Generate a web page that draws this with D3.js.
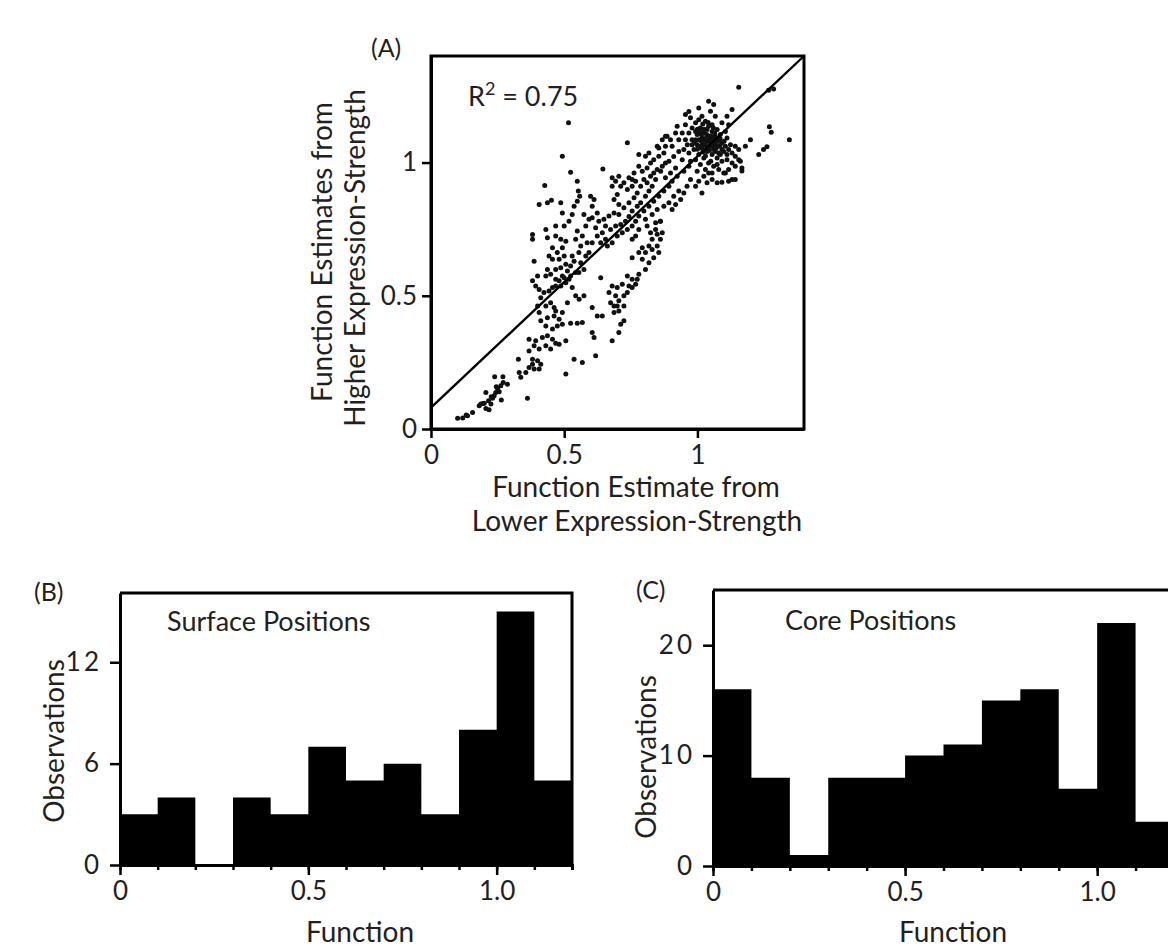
<!DOCTYPE html>
<html>
<head>
<meta charset="utf-8">
<script src="https://cdn.jsdelivr.net/npm/d3@7"></script>
<style>
  body { margin: 0; background: #fff; }
  svg { display: block; font-family: Lato, "Open Sans", sans-serif; }
  .axis path, .axis line { stroke: #000; }
  .axis text { font-family: Lato, sans-serif; fill: #231f20; }
  .lbl { fill: #231f20; }
</style>
</head>
<body>
<svg id="chart" width="1168" height="951"></svg>
<script>
// ---- data, panel A: [estimate from lower strength, estimate from higher strength]
const scatterPoints = [
  // lower-left tail
  [0.10,0.04],[0.119,0.041],[0.137,0.05],[0.156,0.062],[0.181,0.087],[0.187,0.094],[0.20,0.097],
  [0.206,0.077],[0.216,0.106],[0.225,0.094],[0.231,0.115],[0.237,0.125],[0.243,0.137],[0.256,0.14],
  [0.262,0.162],[0.271,0.175],[0.218,0.072],[0.25,0.152],[0.206,0.137],[0.287,0.168],[0.132,0.053],
  [0.195,0.096],[0.226,0.121],[0.245,0.159],[0.27,0.196],[0.239,0.196],[0.264,0.109],
  // lower branch
  [0.328,0.262],[0.331,0.212],[0.337,0.194],[0.362,0.115],[0.356,0.212],[0.368,0.231],[0.381,0.243],
  [0.387,0.225],[0.406,0.225],[0.412,0.243],[0.40,0.256],[0.381,0.262],[0.368,0.293],[0.387,0.312],
  [0.406,0.30],[0.431,0.312],[0.449,0.30],[0.368,0.337],[0.393,0.331],[0.418,0.343],[0.437,0.35],
  [0.456,0.337],[0.468,0.322],[0.481,0.318],[0.506,0.331],[0.506,0.206],[0.537,0.262],[0.568,0.25],
  [0.456,0.375],[0.474,0.387],[0.493,0.393],[0.524,0.397],[0.549,0.397],[0.568,0.40],[0.431,0.387],
  [0.412,0.406],[0.437,0.418],[0.462,0.424],[0.468,0.443],[0.493,0.437],[0.406,0.437],[0.431,0.462],
  [0.449,0.474],[0.462,0.456],[0.481,0.412],[0.412,0.493],[0.40,0.462],[0.512,0.474],[0.543,0.50],
  [0.574,0.50],[0.53,0.531],[0.556,0.487],
  // middle branch below the line
  [0.605,0.362],[0.612,0.343],[0.624,0.424],[0.605,0.456],[0.643,0.424],[0.68,0.331],[0.705,0.362],
  [0.712,0.393],[0.724,0.406],[0.618,0.275],[0.637,0.568],[0.687,0.462],[0.693,0.50],[0.705,0.481],
  [0.724,0.50],[0.737,0.512],[0.755,0.531],[0.768,0.543],[0.774,0.562],[0.755,0.562],[0.737,0.574],
  [0.718,0.543],[0.699,0.531],[0.68,0.537],[0.668,0.512],[0.687,0.437],[0.705,0.443],[0.699,0.462],
  [0.724,0.462],[0.674,0.474],[0.743,0.537],[0.78,0.581],[0.805,0.599],[0.818,0.624],[0.805,0.662],
  [0.83,0.674],[0.849,0.687],[0.861,0.712],[0.868,0.737],[0.843,0.749],[0.83,0.712],[0.855,0.662],
  [0.78,0.662],[0.793,0.68],[0.824,0.737],[0.811,0.762],[0.843,0.774],[0.861,0.78],[0.818,0.687],
  [0.836,0.643],[0.849,0.731],[0.793,0.637],[0.755,0.643],
  // upper-left spread
  [0.381,0.73],[0.381,0.712],[0.387,0.63],[0.40,0.574],[0.381,0.556],[0.393,0.537],[0.406,0.524],
  [0.424,0.512],[0.431,0.574],[0.437,0.599],[0.443,0.649],[0.431,0.749],[0.437,0.718],[0.406,0.843],
  [0.437,0.849],[0.452,0.859],[0.427,0.914],[0.487,0.849],[0.493,0.811],[0.493,1.024],[0.524,0.964],
  [0.549,0.93],[0.553,0.893],[0.558,0.874],[0.549,0.855],[0.537,0.836],[0.53,0.805],[0.518,0.78],
  [0.50,0.762],[0.468,0.762],[0.468,0.724],[0.487,0.712],[0.506,0.705],[0.493,0.68],[0.474,0.662],
  [0.456,0.68],[0.456,0.637],[0.481,0.637],[0.50,0.649],[0.506,0.618],[0.487,0.605],[0.468,0.599],
  [0.449,0.581],[0.468,0.562],[0.493,0.574],[0.512,0.593],[0.524,0.574],[0.506,0.549],[0.487,0.537],
  [0.456,0.531],[0.443,0.518],[0.524,0.612],[0.537,0.63],[0.543,0.587],[0.53,0.649],[0.555,0.662],
  [0.562,0.687],[0.543,0.712],[0.568,0.724],[0.549,0.743],[0.581,0.762],[0.593,0.787],[0.574,0.805],
  [0.605,0.836],[0.612,0.861],[0.599,0.874],[0.624,0.811],[0.605,0.793],[0.63,0.78],[0.618,0.755],
  [0.586,0.699],[0.593,0.662],[0.605,0.699],[0.624,0.724],[0.643,0.737],[0.637,0.699],[0.655,0.712],
  [0.662,0.687],[0.68,0.699],[0.581,0.649],[0.562,0.624],[0.574,0.599],[0.555,0.587],[0.518,0.562],
  [0.468,0.537],[0.481,0.556],[0.50,0.568],[0.645,0.976],[0.516,1.149],
  // band along the fit line
  [0.68,0.911],[0.693,0.93],[0.712,0.911],[0.724,0.924],[0.737,0.899],[0.699,0.88],[0.687,0.861],
  [0.705,0.843],[0.724,0.83],[0.743,0.849],[0.762,0.868],[0.774,0.886],[0.787,0.911],[0.799,0.936],
  [0.811,0.924],[0.824,0.949],[0.836,0.961],[0.849,0.974],[0.868,0.986],[0.88,0.998],[0.862,0.967],
  [0.843,0.936],[0.83,0.911],[0.818,0.893],[0.805,0.874],[0.787,0.849],[0.774,0.836],[0.755,0.818],
  [0.743,0.798],[0.73,0.78],[0.712,0.768],[0.693,0.762],[0.674,0.749],[0.655,0.762],[0.649,0.787],
  [0.668,0.799],[0.687,0.811],[0.705,0.805],[0.718,0.737],[0.699,0.724],[0.737,0.749],[0.755,0.762],
  [0.768,0.78],[0.78,0.799],[0.799,0.818],[0.818,0.836],[0.836,0.855],[0.855,0.874],[0.874,0.893],
  [0.893,0.911],[0.905,0.93],[0.924,0.949],[0.88,0.943],[0.899,0.961],[0.918,0.98],[0.893,1.005],
  [0.911,1.023],[0.874,1.036],[0.855,1.024],[0.836,1.011],[0.88,1.061],[0.855,1.055],[0.905,1.061],
  [0.93,1.042],[0.943,1.011],[0.805,1.024],[0.78,0.986],[0.762,0.961],[0.743,0.943],[0.755,0.911],
  [0.768,0.93],[0.793,0.967],[0.811,0.98],[0.824,0.998],[0.755,0.712],[0.768,0.724],[0.78,0.749],
  [0.805,0.787],[0.83,0.805],[0.849,0.824],[0.874,0.836],[0.893,0.849],[0.905,0.824],[0.911,0.874],
  [0.93,0.893],[0.949,0.886],[0.918,0.843],[0.937,0.861],[0.961,0.911],[0.974,0.936],[0.993,0.911],
  [1.005,0.93],[1.017,0.886],[1.036,0.924],[1.055,0.936],[1.074,0.924],[1.092,0.926],[1.105,0.961],
  [1.042,0.961],[1.024,0.949],[0.949,0.967],[0.968,0.986],[0.861,0.78],[0.737,1.074],[0.78,1.03],
  [0.818,1.036],[0.849,1.061],[0.88,1.099],[0.868,1.086],[0.924,1.136],[0.955,1.142],[0.968,1.192],
  [0.755,0.936],[0.705,0.949],[0.68,0.943],
  // dense cluster near (1, 1.07)
  [0.955,1.086],[0.968,1.111],[0.98,1.13],[0.993,1.149],[1.005,1.161],[1.017,1.174],[1.03,1.155],
  [1.042,1.136],[1.055,1.117],[1.067,1.099],[1.08,1.086],[1.092,1.074],[1.105,1.061],[1.117,1.049],
  [1.13,1.036],[1.142,1.024],[1.155,1.011],[1.167,0.98],[1.13,0.998],[1.111,1.011],[1.086,1.03],
  [1.067,1.042],[1.055,1.061],[1.036,1.08],[1.017,1.092],[0.999,1.105],[0.98,1.086],[0.999,1.067],
  [1.017,1.055],[1.036,1.042],[1.055,1.03],[1.074,1.017],[1.092,1.005],[0.987,1.049],[0.968,1.036],
  [0.949,1.049],[0.962,1.067],[1.005,1.03],[1.024,1.017],[1.042,0.998],[1.061,0.986],[1.005,1.086],
  [1.024,1.111],[1.042,1.099],[1.061,1.086],[1.08,1.061],[1.099,1.042],[1.036,1.124],[1.011,1.13],
  [0.993,1.117],[1.055,1.142],[1.074,1.124],[1.086,1.105],[1.111,1.092],[1.124,1.067],[1.142,1.061],
  [1.155,1.049],[1.049,1.193],[1.067,1.174],[0.974,1.168],[0.955,1.18],[1.005,1.205],[1.042,1.23],
  [1.092,1.149],[1.117,1.142],[1.105,1.117],[0.943,1.111],[0.93,1.086],[0.918,1.111],[0.899,1.086],
  [0.886,1.099],[0.993,1.011],[0.974,1.005],[1.08,0.974],[1.099,0.961],[1.117,0.974],[1.142,0.986],
  [1.161,1.005],[1.011,1.061],[1.03,1.067],[1.049,1.074],[1.067,1.067],[1.024,1.086],[1.042,1.086],
  [1.061,1.049],[0.993,1.086],[0.98,1.067],[1.08,1.036],[1.092,1.049],[1.111,1.03],[1.074,0.993],
  [1.011,0.993],[1.03,0.974],[1.055,0.961],[0.999,0.967],
  [1.02,1.07],[1.03,1.09],[1.045,1.06],[1.05,1.10],[1.06,1.075],[1.035,1.105],[1.015,1.08],
  [1.01,1.115],[1.025,1.125],[1.04,1.15],[1.065,1.11],[1.07,1.055],[1.085,1.09],[1.045,1.045],
  [1.02,1.04],[1.00,1.05],[0.99,1.075],[1.03,1.025],[1.05,1.005],[1.075,1.08],[1.06,1.13],
  [1.02,1.145],[1.00,1.125],[1.085,1.065],[1.1,1.08],[1.035,1.055],[1.055,1.09],[1.015,1.105],
  // right-hand outliers
  [1.155,1.283],[1.267,1.271],[1.286,1.276],[1.345,1.086],[1.27,1.134],[1.277,1.114],[1.23,1.03],
  [1.261,1.059],[1.248,1.049],[1.199,1.086],[1.18,1.061],[1.167,0.968],[1.13,0.936],[1.142,0.936],
  [1.117,0.93],[1.061,1.218],[1.111,1.174],[1.13,1.199]
];
const fitLineX = [0, 1.4];
const fitLineY = [0.08, 1.4];
const scatterTicks = [0, 0.5, 1];
const scatterTickLabels = ['0', '0.5', '1'];

// ---- data, panels B and C (bins of width 0.1 from 0 to 1.2)
const binStarts = [0, 0.1, 0.2, 0.3, 0.4, 0.5, 0.6, 0.7, 0.8, 0.9, 1.0, 1.1];
const binEnd = 1.2;
const surfaceCounts = [3, 4, 0, 4, 3, 7, 5, 6, 3, 8, 15, 5];
const coreCounts = [16, 8, 1, 8, 8, 10, 11, 15, 16, 7, 22, 4];
const histXTicks = [0, 0.5, 1.0];
const histXTickLabels = ['0', '0.5', '1.0'];
const surfaceYTicks = [0, 6, 12];
const coreYTicks = [0, 10, 20];

const svg = d3.select('#chart');

function styleAxis(g, fontSize) {
  g.attr('class', 'axis');
  g.select('.domain').attr('stroke-width', 3);
  g.selectAll('.tick line').attr('stroke-width', 2.5);
  g.selectAll('.tick text').attr('font-size', fontSize);
}

// ---------------- Panel A ----------------
const A = { left: 431, right: 804, top: 56, bottom: 429 };
const xA = d3.scaleLinear().domain([0, 1.4]).range([A.left, A.right]);
const yA = d3.scaleLinear().domain([0, 1.4]).range([A.bottom, A.top]);

svg.append('rect')
  .attr('x', A.left).attr('y', A.top)
  .attr('width', A.right - A.left).attr('height', A.bottom - A.top)
  .attr('fill', 'none').attr('stroke', '#000').attr('stroke-width', 3);

svg.append('g')
  .selectAll('circle')
  .data(scatterPoints)
  .join('circle')
  .attr('cx', d => xA(d[0]))
  .attr('cy', d => yA(d[1]))
  .attr('r', 2.5)
  .attr('fill', '#111');

svg.append('line')
  .attr('x1', xA(fitLineX[0])).attr('y1', yA(fitLineY[0]))
  .attr('x2', xA(fitLineX[1])).attr('y2', yA(fitLineY[1]))
  .attr('stroke', '#000').attr('stroke-width', 2.4);

svg.append('g')
  .attr('transform', `translate(0,${A.bottom})`)
  .call(d3.axisBottom(xA).tickValues(scatterTicks)
    .tickFormat((d, i) => scatterTickLabels[i]).tickSize(9).tickSizeOuter(0).tickPadding(8))
  .call(g => styleAxis(g, 26));

svg.append('g')
  .attr('transform', `translate(${A.left},0)`)
  .call(d3.axisLeft(yA).tickValues(scatterTicks)
    .tickFormat((d, i) => scatterTickLabels[i]).tickSize(9).tickSizeOuter(0).tickPadding(5))
  .call(g => styleAxis(g, 26));

svg.append('text').attr('class', 'lbl')
  .attr('x', 371).attr('y', 57).attr('font-size', 25).text('(A)');

const r2 = svg.append('text').attr('class', 'lbl')
  .attr('x', 468).attr('y', 106).attr('font-size', 27);
r2.append('tspan').text('R');
r2.append('tspan').attr('dy', -11).attr('font-size', 18).text('2');
r2.append('tspan').attr('dy', 11).text(' = 0.75');

svg.append('text').attr('class', 'lbl')
  .attr('text-anchor', 'middle').attr('font-size', 28)
  .attr('transform', 'translate(332,252) rotate(-90)')
  .text('Function Estimates from');
svg.append('text').attr('class', 'lbl')
  .attr('text-anchor', 'middle').attr('font-size', 28)
  .attr('transform', 'translate(365,258) rotate(-90)')
  .text('Higher Expression-Strength');

svg.append('text').attr('class', 'lbl')
  .attr('x', 636).attr('y', 497).attr('text-anchor', 'middle').attr('font-size', 28)
  .text('Function Estimate from');
svg.append('text').attr('class', 'lbl')
  .attr('x', 637).attr('y', 531).attr('text-anchor', 'middle').attr('font-size', 28)
  .text('Lower Expression-Strength');

// ---------------- Panels B and C ----------------
function drawHist(cfg) {
  const x = d3.scaleLinear().domain([0, 1.2]).range([cfg.left, cfg.right]);
  const y = d3.scaleLinear().domain([0, cfg.yMax]).range([cfg.bottom, cfg.top]);

  // one stepped area for all bins, so neighbouring bars leave no seams
  const steps = cfg.counts.map((c, i) => [binStarts[i], c]);
  steps.push([binEnd, cfg.counts[cfg.counts.length - 1]]);
  const area = d3.area()
    .curve(d3.curveStepAfter)
    .x(d => x(d[0]))
    .y0(y(0))
    .y1(d => y(d[1]));
  svg.append('path')
    .datum(steps)
    .attr('d', area)
    .attr('fill', '#000');

  // frame: top and right sides
  svg.append('path')
    .attr('d', `M${cfg.left},${cfg.top}H${cfg.right}V${cfg.bottom}`)
    .attr('fill', 'none').attr('stroke', '#000').attr('stroke-width', 3);

  // minor ticks at each bin edge
  svg.append('g')
    .attr('transform', `translate(0,${cfg.bottom})`)
    .call(d3.axisBottom(x).tickValues(binStarts.concat([binEnd])).tickSize(5).tickFormat(''))
    .call(g => styleAxis(g, 0));

  svg.append('g')
    .attr('transform', `translate(0,${cfg.bottom})`)
    .call(d3.axisBottom(x).tickValues(histXTicks)
      .tickFormat((d, i) => histXTickLabels[i]).tickSize(10).tickSizeOuter(0).tickPadding(7))
    .call(g => styleAxis(g, 26));

  svg.append('g')
    .attr('transform', `translate(${cfg.left},0)`)
    .call(d3.axisLeft(y).tickValues(cfg.yTicks).tickSize(10).tickSizeOuter(0).tickPadding(8))
    .call(g => styleAxis(g, 26))
    .call(g => g.selectAll('.tick text').attr('letter-spacing', cfg.tickSpacing));

  svg.append('text').attr('class', 'lbl')
    .attr('x', cfg.panelX).attr('y', cfg.panelY).attr('font-size', 25).text(cfg.panel);

  svg.append('text').attr('class', 'lbl')
    .attr('x', cfg.titleX).attr('y', cfg.titleY).attr('font-size', 27).text(cfg.title);

  svg.append('text').attr('class', 'lbl')
    .attr('text-anchor', 'middle').attr('font-size', 28)
    .attr('transform', `translate(${cfg.yLabelX},${cfg.yLabelY}) rotate(-90)`)
    .text('Observations');

  svg.append('text').attr('class', 'lbl')
    .attr('x', cfg.xLabelX).attr('y', 942).attr('text-anchor', 'middle').attr('font-size', 28)
    .text('Function');
}

drawHist({
  left: 120, right: 572, top: 593, bottom: 865, yMax: 16.1,
  counts: surfaceCounts, yTicks: surfaceYTicks, tickSpacing: 3,
  panel: '(B)', panelX: 34, panelY: 601,
  title: 'Surface Positions', titleX: 167, titleY: 631,
  yLabelX: 64, yLabelY: 741, xLabelX: 360
});

drawHist({
  left: 713, right: 1174, top: 590, bottom: 866, yMax: 25,
  counts: coreCounts, yTicks: coreYTicks, tickSpacing: 3,
  panel: '(C)', panelX: 636, panelY: 599,
  title: 'Core Positions', titleX: 785, titleY: 630,
  yLabelX: 656, yLabelY: 757, xLabelX: 953
});
</script>
</body>
</html>
